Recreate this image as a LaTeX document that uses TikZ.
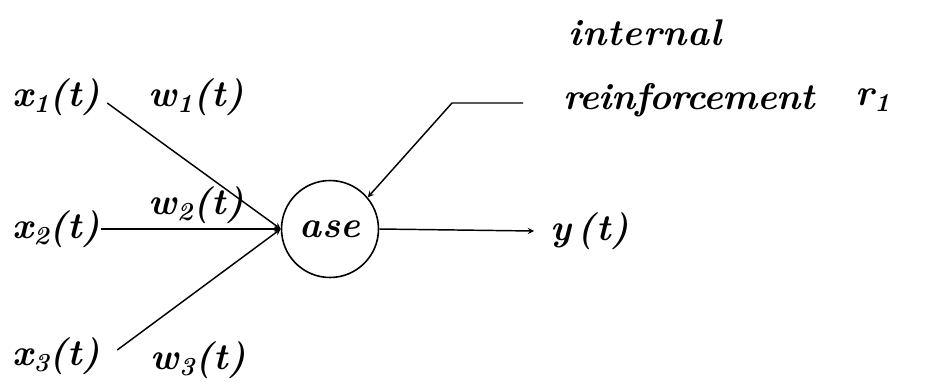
\documentclass[tikz,border=0pt]{standalone}
\usepackage{fontspec}
\setmainfont{Latin Modern Roman}[LetterSpace=2]
\begin{document}
\begin{tikzpicture}[x=0.0265cm,y=-0.0265cm,>=stealth,line width=1.1pt]
  \tikzstyle{lbl}=[inner sep=0pt, anchor=west, font=\fontsize{28}{32}\selectfont\bfseries\itshape]
  \tikzstyle{unit}=[draw, circle, line width=1.2pt, minimum size=2.57cm, inner sep=0pt,
    font=\fontsize{28}{32}\selectfont\bfseries\itshape]

  \useasboundingbox (0,0) rectangle (932,381);

  % inputs and weights
  \node[lbl] (x1) at (12,97) {x\textsubscript{1}(t)};
  \node[lbl] (x2) at (12,229) {x\textsubscript{2}(t)};
  \node[lbl] (x3) at (12,356) {x\textsubscript{3}(t)};
  \node[lbl] (w1) at (148,97) {w\textsubscript{1}(t)};
  \node[lbl] (w2) at (148,205) {w\textsubscript{2}(t)};
  \node[lbl] (w3) at (150,360) {w\textsubscript{3}(t)};

  % the element
  \node[unit] (ase) at (330,229) {ase};
  \node[lbl] (y) at (550,231) {y\,(t)};

  % reinforcement
  \node[lbl] (int) at (568,33) {internal};
  \node[lbl] (reinf) at (563,100) {\addfontfeature{LetterSpace=-1.5}reinforcement};
  \node[lbl] (r1) at (855,100) {r\textsubscript{1}};
  \coordinate (rbend) at (452,103);
  \coordinate (rstart) at (523,103);

  \draw[->] ([shift={(6,6)}]x1.east) -- (ase.west);
  \draw[->] (x2.east) -- (ase.west);
  \draw[->] ([shift={(16,-6)}]x3.east) -- (ase.west);
  \draw[->] (ase.east) -- ([xshift=-12]y.west);
  \draw[->] (rstart) -- (rbend) -- (ase.40);
\end{tikzpicture}
\end{document}
